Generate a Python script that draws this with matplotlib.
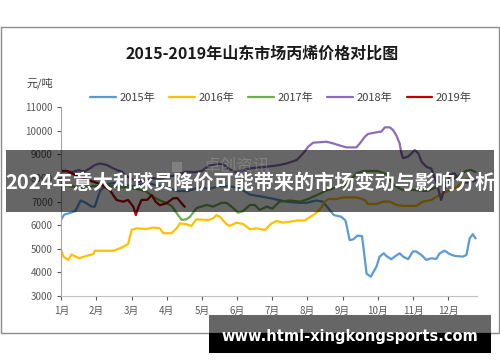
import matplotlib
matplotlib.use("Agg")
import matplotlib.pyplot as plt
from matplotlib.patches import Rectangle

plt.rcParams['font.family'] = ['Noto Sans CJK SC', 'DejaVu Sans']

# ------------------------------------------------------------
# datos: posicion en meses desde el 1 de enero, precio (元/吨)
# ------------------------------------------------------------
meses = ['1月', '2月', '3月', '4月', '5月', '6月', '7月', '8月', '9月', '10月', '11月', '12月']
series = ['2015年', '2016年', '2017年', '2018年', '2019年']
colores = ['#5b9bd5', '#ffc000', '#70ad47', '#8e6bb8', '#c00000']

x_2015 = [0.00, 0.08, 0.25, 0.40, 0.55, 0.70, 0.85, 0.95, 1.10, 1.30, 1.55, 1.80, 2.10, 2.40,
          2.70, 3.00, 3.30, 3.60, 3.90, 4.20, 4.50, 4.80, 5.10, 5.36, 5.93, 6.40, 6.78, 6.97,
          7.25, 7.44, 7.60, 7.75, 7.96, 8.08, 8.20, 8.30, 8.42, 8.55, 8.60, 8.68, 8.80, 8.96,
          9.05, 9.17, 9.24, 9.38, 9.48, 9.62, 9.72, 9.86, 10.00, 10.09, 10.24, 10.38, 10.52,
          10.66, 10.76, 10.90, 11.04, 11.18, 11.42, 11.52, 11.61, 11.70, 11.78]
y_2015 = [6250, 6450, 6520, 6600, 7050, 6950, 6800, 6780, 7450, 7750, 7800, 7700, 7650, 7800,
          7700, 7600, 7450, 7450, 7600, 7550, 7650, 7650, 7550, 7300, 7150, 7000, 6950, 6950,
          7050, 7000, 6700, 6430, 6360, 6200, 5370, 5400, 5560, 5540, 4940, 3950, 3820, 4240,
          4670, 4810, 4700, 4560, 4670, 4810, 4670, 4560, 4890, 4890, 4740, 4530, 4600,
          4570, 4810, 4920, 4780, 4700, 4670, 4740, 5440, 5620, 5440]

x_2016 = [0.00, 0.06, 0.20, 0.29, 0.50, 0.72, 0.91, 0.96, 1.48, 1.67, 1.90, 2.00, 2.14, 2.42,
          2.61, 2.80, 2.90, 3.13, 3.28, 3.37, 3.56, 3.70, 3.84, 4.18, 4.32, 4.41, 4.51, 4.70,
          4.79, 4.98, 5.17, 5.36, 5.55, 5.79, 5.98, 6.12, 6.31, 6.50, 6.69, 6.92, 7.16, 7.30,
          7.40, 7.49, 7.59, 7.82, 8.01, 8.39, 8.63, 8.72, 8.96, 9.15, 9.34, 9.53, 9.72, 10.09,
          10.28, 10.52, 10.66, 10.85, 11.04, 11.23, 11.42, 11.56, 11.65]
y_2016 = [4950, 4670, 4530, 4760, 4600, 4700, 4780, 4920, 4920, 5020, 5200, 5800, 5870, 5840,
          5900, 5870, 5660, 5660, 5870, 6080, 6040, 5970, 6250, 6220, 6290, 6430, 6360, 6040,
          5970, 6110, 6050, 5830, 5870, 5800, 6080, 6180, 6110, 6150, 6200, 6200, 6430, 6580,
          6760, 7000, 7110, 7110, 7180, 7180, 7070, 6900, 6900, 7000, 7000, 6860, 6820, 6820,
          7000, 7070, 7200, 7350, 7490, 7600, 7850, 7990, 7920]

x_2017 = [0.00, 0.30, 0.60, 0.90, 1.20, 1.50, 1.80, 2.10, 2.40, 2.62, 2.80, 2.99, 3.15, 3.32,
          3.42, 3.55, 3.66, 3.85, 4.13, 4.32, 4.56, 4.70, 4.84, 5.03, 5.17, 5.36, 5.50, 5.64,
          5.84, 6.00, 6.20, 6.50, 6.80, 7.00, 7.30, 7.50, 7.80, 8.10, 8.40, 8.60, 9.00, 9.25,
          9.45, 9.70, 10.00, 10.40, 10.80, 11.20, 11.50, 11.65, 11.78]
y_2017 = [7700, 7650, 7600, 7650, 7700, 7650, 7600, 7550, 7450, 7200, 7050, 6950, 6800, 6430,
          6230, 6250, 6360, 6730, 6860, 6790, 6950, 6950, 6790, 6530, 6600, 6860, 6860, 6650,
          6790, 6700, 7000, 7050, 7000, 7100, 7300, 7450, 7600, 7700, 8200, 8300, 8300, 8150,
          7700, 7500, 7500, 7450, 7700, 8000, 8300, 8350, 8250]

x_2018 = [0.00, 0.15, 0.30, 0.50, 0.65, 0.80, 0.95, 1.10, 1.30, 1.48, 1.60, 1.72, 1.82, 2.00,
          2.20, 2.40, 2.60, 2.80, 3.00, 3.20, 3.40, 3.56, 3.80, 4.00, 4.17, 4.40, 4.60, 4.75,
          4.94, 5.10, 5.36, 5.84, 6.20, 6.40, 6.69, 6.88, 7.02, 7.16, 7.54, 7.73, 7.92, 8.11,
          8.39, 8.49, 8.63, 8.72, 8.96, 9.10, 9.20, 9.34, 9.43, 9.53, 9.62, 9.67, 9.72, 9.86,
          9.96, 10.05, 10.15, 10.24, 10.38, 10.52, 10.66, 10.74, 10.80, 10.88, 10.96, 11.04,
          11.18, 11.32, 11.50, 11.65, 11.78]
y_2018 = [8270, 8300, 8250, 8340, 8270, 8400, 8550, 8620, 8550, 8410, 8330, 8270, 8130, 7950,
          7850, 7900, 8000, 7950, 8050, 8100, 8200, 8270, 8250, 8300, 8500, 8600, 8600, 8400,
          8250, 8300, 8410, 8480, 8550, 8620, 8760, 9050, 9330, 9500, 9540, 9470, 9380, 9300,
          9300, 9470, 9750, 9870, 9940, 9970, 10150, 10150, 10040, 9800, 9470, 9050, 8840, 8910,
          9050, 9190, 9050, 8700, 8480, 8400, 7850, 7420, 7070, 7450, 7700, 8150,
          8200, 7900, 7800, 7850, 7900]

x_2019 = [0.00, 0.15, 0.30, 0.50, 0.70, 0.90, 1.10, 1.38, 1.57, 1.75, 1.90, 2.05, 2.12, 2.20,
          2.28, 2.45, 2.57, 2.68, 2.80, 2.99, 3.18, 3.30, 3.42, 3.51]
y_2019 = [8310, 8300, 8200, 8050, 7950, 7850, 7750, 7490, 7070, 7000, 7070, 6780, 6430, 6800,
          7070, 7080, 7280, 7000, 6850, 6930, 7140, 7150, 6930, 6780]

xs = [x_2015, x_2016, x_2017, x_2018, x_2019]
ys = [y_2015, y_2016, y_2017, y_2018, y_2019]

W, H = 500, 362


def fx(px):
    return px / W


def fy(py):
    return 1 - py / H


fig = plt.figure(figsize=(5, 3.62), dpi=100)
fig.patch.set_facecolor('white')

# marco exterior del grafico
fig.patches.append(Rectangle((fx(1), fy(333)), fx(498), 306 / H, transform=fig.transFigure,
                             fill=False, edgecolor='#8c8c8c', linewidth=1.0, zorder=1))

ax = fig.add_axes([fx(61.3), fy(296), (477 - 61.3) / W, (296 - 107.3) / H])
for x, y, c, s in zip(xs, ys, colores, series):
    ax.plot(x, y, color=c, lw=1.6, label=s, solid_joinstyle='round', solid_capstyle='round')

ax.set_xlim(0, 11.82)
ax.set_ylim(3000, 11000)
ax.set_yticks(range(3000, 11001, 1000))
ax.set_xticks(range(12))
ax.set_xticklabels(meses)
ax.tick_params(axis='both', labelsize=7, colors='#595959', length=3, width=0.8)
ax.tick_params(axis='y', pad=3)
ax.tick_params(axis='x', pad=4)
for lado in ['top', 'right']:
    ax.spines[lado].set_visible(False)
ax.spines['left'].set_color('#a6a6a6')
ax.spines['bottom'].set_color('#bfbfbf')
ax.set_facecolor('none')

fig.text(fx(262), fy(54), '2015-2019年山东市场丙烯价格对比图', ha='center', va='center',
         fontsize=11.5, fontweight='bold', color='#1a1a1a')
fig.text(fx(40), fy(83), '元/吨', ha='center', va='center', fontsize=8, color='#404040')

fig.legend(loc='center', bbox_to_anchor=(fx(281), fy(98)), ncol=5, frameon=False,
           fontsize=8, handlelength=2.3, handletextpad=0.35, columnspacing=1.25,
           labelcolor='#404040')

# banda oscura con el titular
fig.patches.append(Rectangle((fx(6), fy(212)), (494 - 6) / W, 62 / H, transform=fig.transFigure,
                             facecolor='black', alpha=0.6, edgecolor='none', zorder=5))
fig.patches.append(Rectangle((fx(172), fy(172)), 10 / W, 10 / H, transform=fig.transFigure,
                             facecolor='#bdbdbd', alpha=0.3, edgecolor='none', zorder=6))
fig.text(fx(236), fy(166), '卓创资讯', ha='center', va='center', fontsize=12,
         color='#bdbdbd', alpha=0.3, zorder=6)
fig.text(fx(250), fy(182), '2024年意大利球员降价可能带来的市场变动与影响分析', ha='center',
         va='center', fontsize=14.5, fontweight='bold', color='white', zorder=7)

# banda inferior con la web
fig.patches.append(Rectangle((fx(209), fy(353)), (491 - 209) / W, 38 / H, transform=fig.transFigure,
                             facecolor='black', alpha=0.6, edgecolor='none', zorder=5))
fig.patches.append(Rectangle((fx(209), fy(353)), (491 - 209) / W, 20 / H, transform=fig.transFigure,
                             facecolor='black', edgecolor='none', zorder=5))
fig.text(fx(350), fy(337), 'www.html-xingkongsports.com', ha='center', va='center',
         fontsize=10.5, fontweight='bold', color='white', family='DejaVu Sans', zorder=7)

fig.savefig('out.png', dpi=100)
